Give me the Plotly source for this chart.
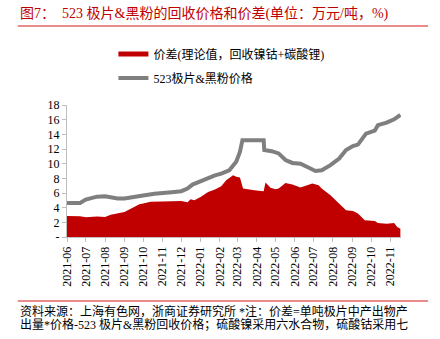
import plotly.graph_objects as go

# 523 极片&黑粉价格 (万元/吨)
price_dates = ["2021-06-01","2021-06-22","2021-07-01","2021-07-19","2021-08-01","2021-08-10","2021-08-21",
               "2021-09-01","2021-09-17","2021-10-01","2021-10-19","2021-11-01","2021-11-20","2021-12-01",
               "2021-12-11","2021-12-19","2022-01-01","2022-01-13","2022-01-24","2022-02-03","2022-02-16",
               "2022-02-27","2022-03-05","2022-03-09","2022-04-12","2022-04-13","2022-04-25","2022-05-06",
               "2022-05-17","2022-05-28","2022-06-10","2022-06-21","2022-07-04","2022-07-14","2022-07-28",
               "2022-08-11","2022-08-22","2022-09-02","2022-09-10","2022-09-23","2022-10-02","2022-10-07",
               "2022-10-12","2022-10-26","2022-11-07","2022-11-17"]
price_vals = [4.65,4.65,5.1,5.5,5.55,5.4,5.25,
              5.25,5.4,5.65,5.9,6.05,6.15,6.25,
              6.6,7.15,7.65,8.0,8.4,8.65,9.1,
              10.25,11.6,13.2,13.2,11.85,11.7,11.4,
              10.5,10.1,10.0,9.55,9.0,9.1,9.8,
              10.7,11.85,12.4,12.6,14.1,14.35,14.5,
              15.25,15.6,16.05,16.65]

# 价差(理论值，回收镍钴+碳酸锂) (万元/吨)
spread_dates = ["2021-06-01","2021-06-22","2021-07-01","2021-07-19","2021-08-01","2021-08-10","2021-09-01",
                "2021-09-17","2021-09-25","2021-10-01","2021-10-13","2021-11-01","2021-12-01","2021-12-11",
                "2021-12-16","2021-12-22","2022-01-01","2022-01-13","2022-01-24","2022-02-03","2022-02-11",
                "2022-02-22","2022-02-27","2022-03-05","2022-03-10","2022-03-28","2022-04-12","2022-04-15",
                "2022-04-23","2022-05-01","2022-05-06","2022-05-17","2022-05-28","2022-06-10","2022-06-21",
                "2022-06-29","2022-07-09","2022-07-14","2022-07-28","2022-08-11","2022-08-22","2022-09-02",
                "2022-09-10","2022-09-21","2022-10-07","2022-10-12","2022-10-26","2022-11-07","2022-11-12",
                "2022-11-17"]
spread_vals = [2.87,2.83,2.7,2.78,2.73,3.05,3.4,
               4.1,4.47,4.56,4.8,4.83,4.92,4.74,
               5.15,5.0,5.47,6.15,6.47,6.93,7.75,
               8.43,8.2,8.1,6.6,6.38,6.24,7.43,
               6.7,6.52,6.6,7.38,7.16,6.75,7.07,
               7.3,7.07,6.6,5.7,4.56,3.65,3.55,
               3.19,2.28,2.19,1.91,1.82,1.91,1.37,
               1.14]

y_ticks = [0, 2, 4, 6, 8, 10, 12, 14, 16, 18]
y_labels = ["-", "2", "4", "6", "8", "10", "12", "14", "16", "18"]

spread_name = "价差(理论值，回收镍钴+碳酸锂)"
price_name = "523极片&黑粉价格"
title_text = "图7：  523 极片&黑粉的回收价格和价差(单位：万元/吨，%)"
source_l1 = "资料来源：上海有色网，浙商证券研究所 *注：价差=单吨极片中产出物产"
source_l2 = "出量*价格-523 极片&黑粉回收价格；硫酸镍采用六水合物，硫酸钴采用七"

FONT = "Liberation Serif, Noto Sans CJK SC, serif"
RED = "#C00000"
GRAY = "#7F7F7F"

fig = go.Figure()
fig.add_trace(go.Scatter(x=spread_dates, y=spread_vals, mode="lines", fill="tozeroy",
                         line=dict(width=0, color=RED), fillcolor=RED,
                         name=spread_name, showlegend=False))
# legend swatch for the area (thin bar as in the original)
fig.add_trace(go.Scatter(x=[None], y=[None], mode="lines",
                         line=dict(width=5, color=RED), name=spread_name, legend="legend"))
fig.add_trace(go.Scatter(x=price_dates, y=price_vals, mode="lines",
                         line=dict(width=4, color=GRAY),
                         name=price_name, legend="legend2"))

legend_common = dict(x=0.139, xanchor="left", yanchor="middle",
                     bgcolor="rgba(0,0,0,0)", font=dict(size=12, family=FONT),
                     tracegroupgap=0, itemwidth=30)

fig.update_layout(
    width=440, height=339,
    margin=dict(l=67, r=39, t=105, b=102),
    paper_bgcolor="white", plot_bgcolor="white",
    font=dict(family=FONT, size=12, color="#000000"),
    showlegend=True,
    legend=dict(y=1 + (105 - 54) / 132, **legend_common),
    legend2=dict(y=1 + (105 - 78) / 132, **legend_common),
    xaxis=dict(type="date", range=["2021-06-01", "2022-11-18"],
               tickmode="linear", tick0="2021-06-01", dtick="M1", tickformat="%Y-%m",
               tickangle=-90, showgrid=False, showline=True, linecolor="#BFBFBF", linewidth=1,
               ticks="outside", ticklen=4, tickcolor="#BFBFBF",
               tickfont=dict(size=12, family=FONT), zeroline=False),
    yaxis=dict(range=[0, 18], tickmode="array", tickvals=y_ticks, ticktext=y_labels,
               showgrid=False, showline=True, linecolor="#BFBFBF", linewidth=1,
               ticks="outside", ticklen=4, tickcolor="#BFBFBF",
               tickfont=dict(size=12, family=FONT), zeroline=False),
)

# title and rules
fig.add_annotation(xref="paper", yref="paper", x=-49 / 333, y=1.0 + (105 - 14) / 132, xanchor="left",
                   yanchor="middle", text=title_text, showarrow=False,
                   font=dict(size=14, color=RED, family=FONT))
fig.add_shape(type="line", xref="paper", yref="paper",
              x0=-49 / 333, x1=(427 - 67) / 333, y0=1.0 + (105 - 26) / 132, y1=1.0 + (105 - 26) / 132,
              line=dict(color="#E06666", width=1.5))
fig.add_shape(type="line", xref="paper", yref="paper",
              x0=-49 / 333, x1=(427 - 67) / 333, y0=-(301 - 237) / 132, y1=-(301 - 237) / 132,
              line=dict(color="#E06666", width=1.5))
fig.add_annotation(xref="paper", yref="paper", x=-49 / 333, y=-(311 - 237) / 132, xanchor="left",
                   yanchor="middle", text=source_l1, showarrow=False,
                   font=dict(size=12, color="#000000", family=FONT))
fig.add_annotation(xref="paper", yref="paper", x=-49 / 333, y=-(324 - 237) / 132, xanchor="left",
                   yanchor="middle", text=source_l2, showarrow=False,
                   font=dict(size=12, color="#000000", family=FONT))

fig.write_html("out.html")
